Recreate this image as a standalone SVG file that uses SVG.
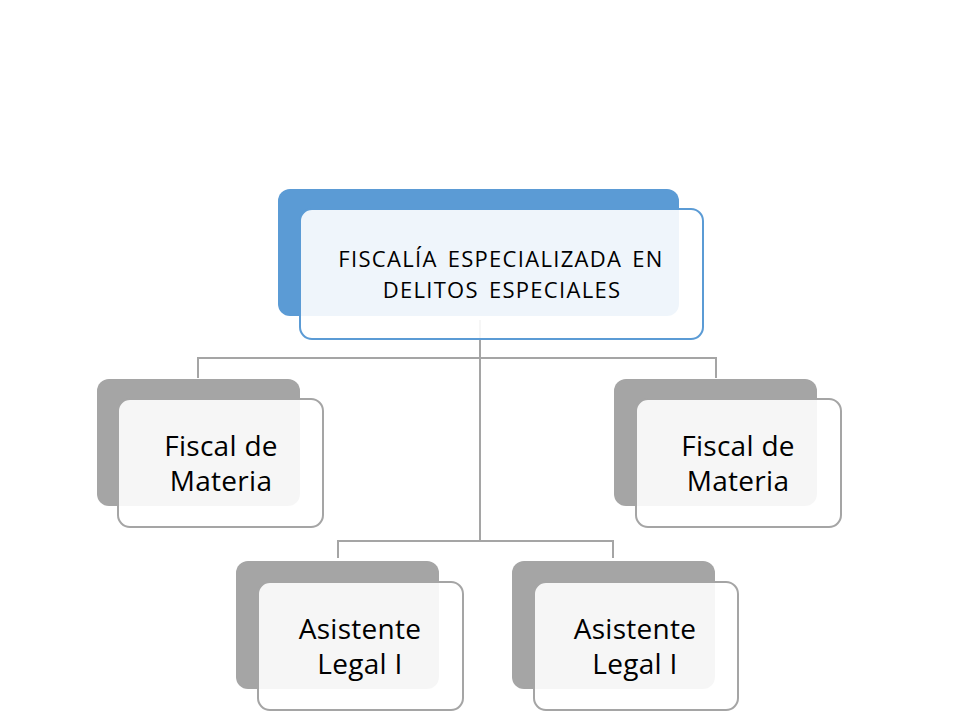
<svg xmlns="http://www.w3.org/2000/svg" width="980" height="717" viewBox="0 0 980 717">
<style>
.bg{fill:#ffffff}
.con{fill:none;stroke:#A5A5A5;stroke-width:2}
.backB{fill:#5B9BD5}
.frontB{fill:#ffffff;fill-opacity:0.9;stroke:#5B9BD5;stroke-width:2}
.backG{fill:#A5A5A5}
.frontG{fill:#ffffff;fill-opacity:0.9;stroke:#A5A5A5;stroke-width:2}
.t{font-family:"Open Sans","Liberation Sans",sans-serif;fill:#000;text-anchor:middle}
.tb{font-size:22px;letter-spacing:1.3px;word-spacing:3px}
.ts{font-size:28px;letter-spacing:0.3px}
</style>
<rect class="bg" x="0" y="0" width="980" height="717"/>
<g id="connectors">
<path class="con" d="M480 320 V541"/>
<path class="con" d="M198 378 V358 H716 V378"/>
<path class="con" d="M338 558 V541 H613 V558"/>
</g>
<g id="top">
<rect class="backB" x="278" y="189" width="401" height="127" rx="12"/>
<rect class="frontB" x="300" y="209" width="403" height="130" rx="12"/>
<text class="t tb" x="501" y="267">FISCALÍA ESPECIALIZADA EN</text>
<text class="t tb" x="502" y="298">DELITOS ESPECIALES</text>
</g>
<g id="fiscal1">
<rect class="backG" x="97" y="379" width="203" height="127" rx="12"/>
<rect class="frontG" x="118" y="399" width="205" height="128" rx="12"/>
<text class="t ts" x="221" y="456">Fiscal de</text>
<text class="t ts" x="221" y="491">Materia</text>
</g>
<g id="fiscal2">
<rect class="backG" x="614" y="379" width="203" height="127" rx="12"/>
<rect class="frontG" x="636" y="399" width="205" height="128" rx="12"/>
<text class="t ts" x="738" y="456">Fiscal de</text>
<text class="t ts" x="738" y="491">Materia</text>
</g>
<g id="asistente1">
<rect class="backG" x="236" y="561" width="203" height="128" rx="12"/>
<rect class="frontG" x="258" y="582" width="205" height="128" rx="12"/>
<text class="t ts" x="360" y="639">Asistente</text>
<text class="t ts" x="360" y="674">Legal I</text>
</g>
<g id="asistente2">
<rect class="backG" x="512" y="561" width="203" height="128" rx="12"/>
<rect class="frontG" x="534" y="582" width="204" height="128" rx="12"/>
<text class="t ts" x="635" y="639">Asistente</text>
<text class="t ts" x="635" y="674">Legal I</text>
</g>
</svg>
